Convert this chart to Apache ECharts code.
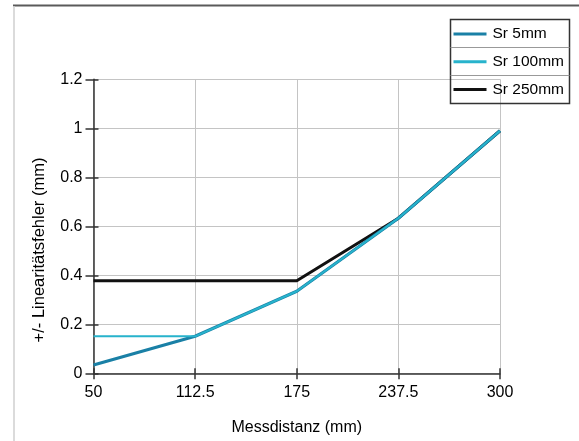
<!DOCTYPE html>
<html>
<head>
<meta charset="utf-8">
<script src="https://cdn.jsdelivr.net/npm/echarts@6/dist/echarts.min.js"></script>
<style>
html,body{margin:0;padding:0;background:#fff;}
#chart{width:579px;height:441px;}
</style>
</head>
<body>
<div id="chart"></div>
<script>
var distances = ['50', '112.5', '175', '237.5', '300'];
var sr5 = [0.034, 0.151, 0.335, 0.633, 0.99];
var sr100 = [0.151, 0.151, 0.335, 0.633, 0.99];
var sr250 = [0.378, 0.378, 0.378, 0.633, 0.99];
var seriesNames = ['Sr 5mm', 'Sr 100mm', 'Sr 250mm'];
var yTicks = { min: 0, max: 1.2, step: 0.2 };

var FONT = '"Liberation Sans", Arial, sans-serif';
var chart = echarts.init(document.getElementById('chart'), null, { renderer: 'canvas' });

chart.setOption({
  animation: false,
  backgroundColor: '#ffffff',
  grid: { left: 93.5, right: 79, top: 79.3, bottom: 67.7, containLabel: false },
  legend: {
    data: seriesNames,
    orient: 'vertical',
    left: 450.5,
    top: 20,
    padding: [6, 4, 6, 3],
    itemWidth: 33,
    itemHeight: 3,
    itemGap: 11.7,
    icon: 'rect',
    textStyle: { fontFamily: FONT, fontSize: 15.5, color: '#000', lineHeight: 16, padding: [0,0,0,1] },
    selectedMode: false
  },
  xAxis: [{
    type: 'category',
    data: distances,
    boundaryGap: false,
    axisLine: { lineStyle: { color: '#333', width: 1.5 } },
    axisTick: { show: true, length: 6, alignWithLabel: true, lineStyle: { color: '#333', width: 1.5 } },
    axisLabel: { fontFamily: FONT, fontSize: 16, color: '#000', margin: 11 },
    splitLine: { show: true, lineStyle: { color: '#c4c4c4', width: 1 } },
    name: 'Messdistanz (mm)',
    nameLocation: 'middle',
    nameGap: 46,
    nameTextStyle: { fontFamily: FONT, fontSize: 16, color: '#000' }
  }, {
    type: 'category',
    data: distances,
    boundaryGap: false,
    position: 'bottom',
    axisLine: { show: false },
    axisTick: { show: true, inside: true, length: 5, lineStyle: { color: '#333', width: 1.5 } },
    axisLabel: { show: false },
    splitLine: { show: false }
  }],
  yAxis: [{
    type: 'value',
    min: yTicks.min,
    max: yTicks.max,
    interval: yTicks.step,
    axisLine: { show: true, lineStyle: { color: '#333', width: 1.5 } },
    axisTick: { show: true, length: 8, lineStyle: { color: '#333', width: 1.5 } },
    axisLabel: { fontFamily: FONT, fontSize: 16, color: '#000', margin: 11 },
    splitLine: { show: true, lineStyle: { color: '#c4c4c4', width: 1 } }
  }, {
    type: 'value',
    min: yTicks.min,
    max: yTicks.max,
    interval: yTicks.step,
    position: 'left',
    axisLine: { show: false },
    axisTick: { show: true, inside: true, length: 5, lineStyle: { color: '#333', width: 1.5 } },
    axisLabel: { show: false },
    splitLine: { show: false }
  }],
  series: [{
    name: 'Sr 250mm',
    type: 'line',
    data: sr250,
    showSymbol: false,
    symbol: 'none',
    color: '#111111',
    lineStyle: { color: '#111111', width: 3 },
    z: 2
  }, {
    name: 'Sr 5mm',
    type: 'line',
    data: sr5,
    showSymbol: false,
    symbol: 'none',
    color: '#1a80a6',
    lineStyle: { color: '#1a80a6', width: 3.2 },
    z: 3
  }, {
    name: 'Sr 100mm',
    type: 'line',
    data: sr100,
    showSymbol: false,
    symbol: 'none',
    color: '#27b3cc',
    lineStyle: { color: '#27b3cc', width: 2 },
    z: 4
  }],
  graphic: [
    { type: 'line', shape: { x1: 13, y1: 5.5, x2: 579, y2: 5.5 }, style: { stroke: '#5a5a5a', lineWidth: 2 }, z: 10 },
    { type: 'line', shape: { x1: 14, y1: 6, x2: 14, y2: 441 }, style: { stroke: '#cfcfcf', lineWidth: 1.5 }, z: 10 },
    { type: 'rect', shape: { x: 450.5, y: 19.5, width: 119, height: 84 }, style: { fill: 'none', stroke: '#333', lineWidth: 1.5 }, z: 10 },
    { type: 'line', shape: { x1: 450.5, y1: 47.5, x2: 569.5, y2: 47.5 }, style: { stroke: '#999', lineWidth: 1 }, z: 10 },
    { type: 'line', shape: { x1: 450.5, y1: 75.5, x2: 569.5, y2: 75.5 }, style: { stroke: '#999', lineWidth: 1 }, z: 10 },
    { type: 'text', x: 39, y: 250, rotation: Math.PI / 2,
      style: { text: '+/- Linearitätsfehler (mm)', fontFamily: FONT, fontSize: 16.5, fill: '#000',
               textAlign: 'center', textVerticalAlign: 'middle' }, z: 10 }
  ]
});
</script>
</body>
</html>
